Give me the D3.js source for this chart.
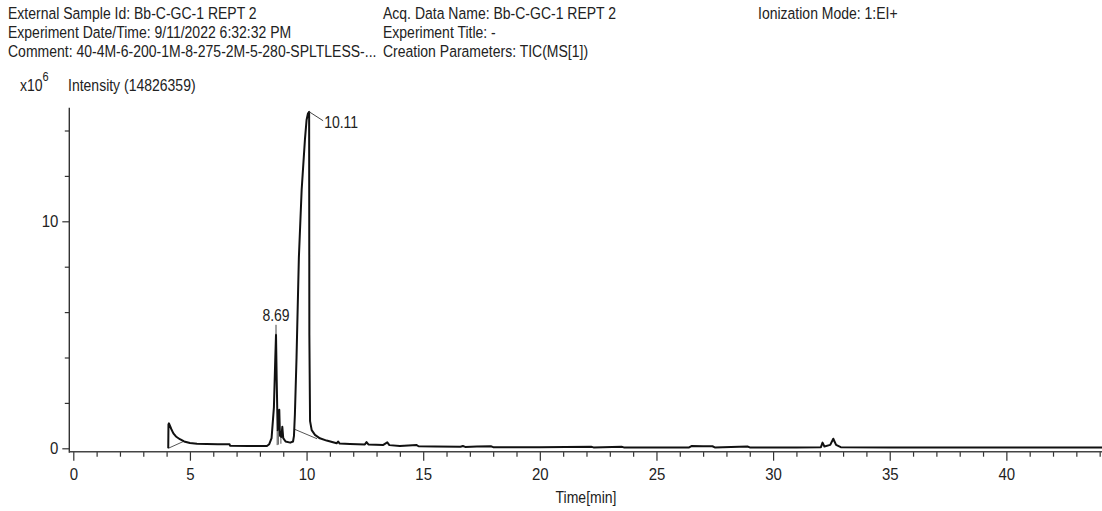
<!DOCTYPE html>
<html>
<head>
<meta charset="utf-8">
<script src="https://cdn.jsdelivr.net/npm/d3@7"></script>
<style>
  html, body { margin: 0; padding: 0; background: #fff; }
  svg { display: block; }
  text { font-family: "Liberation Sans", Arial, sans-serif; fill: #222; }
</style>
</head>
<body>
<svg id="chart" width="1102" height="511"></svg>
<script>
// Header information
const headerLeft = [
  "External Sample Id: Bb-C-GC-1 REPT 2",
  "Experiment Date/Time: 9/11/2022 6:32:32 PM",
  "Comment: 40-4M-6-200-1M-8-275-2M-5-280-SPLTLESS-..."
];
const headerMid = [
  "Acq. Data Name: Bb-C-GC-1 REPT 2",
  "Experiment Title: -",
  "Creation Parameters: TIC(MS[1])"
];
const headerRight = ["Ionization Mode: 1:EI+"];
const intensityLabel = "Intensity (14826359)";

// TIC trace: retention time (min) and intensity (x10^6 counts)
const timeMin = [
  4.07, 4.08, 4.10, 4.20, 4.29, 4.40, 4.57, 4.75, 5.00, 5.30, 5.72, 6.20, 6.70, 6.72,
  7.50, 8.30, 8.40, 8.50, 8.60, 8.66, 8.69, 8.72, 8.76, 8.80, 8.83, 8.86, 8.92, 8.96,
  9.00, 9.10, 9.30, 9.42, 9.46, 9.50, 9.57, 9.67, 9.79, 9.93, 10.00, 10.06, 10.11,
  10.12, 10.15, 10.22, 10.36, 10.57, 10.86, 11.29, 11.35, 11.42, 11.86, 12.50, 12.57,
  12.65, 13.29, 13.46, 13.55, 14.00, 14.72, 14.80, 15.50, 16.60, 16.70, 16.80, 17.30,
  17.90, 18.00, 20.00, 22.20, 22.30, 23.50, 23.60, 25.00, 26.40, 26.50, 27.00, 27.40,
  27.50, 28.90, 29.00, 31.00, 32.05, 32.12, 32.20, 32.45, 32.58, 32.70, 32.90, 35.00,
  40.00, 44.20
];
const intensityM = [
  0.00, 1.05, 1.10, 0.85, 0.66, 0.52, 0.40, 0.30, 0.23, 0.20, 0.19, 0.18, 0.18, 0.11,
  0.10, 0.10, 0.18, 0.45, 1.80, 4.00, 5.00, 3.00, 0.80, 1.00, 1.70, 0.55, 0.50, 0.95,
  0.45, 0.30, 0.25, 0.30, 0.55, 1.50, 4.00, 8.40, 11.40, 13.60, 14.46, 14.75, 14.826359,
  5.00, 1.20, 0.80, 0.59, 0.44, 0.34, 0.22, 0.30, 0.21, 0.19, 0.17, 0.27,
  0.17, 0.15, 0.26, 0.14, 0.10, 0.14, 0.09, 0.08, 0.07, 0.10, 0.06, 0.08,
  0.09, 0.05, 0.05, 0.07, 0.04, 0.07, 0.04, 0.04, 0.04, 0.10, 0.09, 0.09,
  0.04, 0.08, 0.04, 0.04, 0.05, 0.25, 0.08, 0.15, 0.42, 0.15, 0.05, 0.03,
  0.03, 0.03
];

// Integration baselines and drop lines: [t0, i0, t1, i1]
const baselineSegments = [
  [4.07, 0.00, 4.72, 0.30],
  [8.74, 0.14, 8.74, 0.80],
  [8.79, 0.16, 8.79, 0.95],
  [8.90, 0.20, 8.90, 0.50],
  [9.46, 0.85, 10.45, 0.42]
];

// Labelled peaks
const peakTimes = [8.69, 10.11];
const peakHeights = [5.00, 14.826359];
const peakLabels = ["8.69", "10.11"];

// Axis ticks
const xMajorTicks = [0, 5, 10, 15, 20, 25, 30, 35, 40];
const xMinorTicks = d3.range(0, 45, 1).filter(v => v % 5 !== 0);
const yMajorTicks = [0, 10];
const yMinorTicks = [2, 4, 6, 8, 12, 14];

const svg = d3.select("#chart");

const x = d3.scaleLinear().domain([0, 44.1]).range([73.3, 1102]);
const y = d3.scaleLinear().domain([0, 15]).range([448.3, 107.8]);
const axisY = 451.7;   // x-axis line position
const axisX = 69.3;    // y-axis line position
const TALL = 1.12;     // text is drawn slightly taller than wide

// Place a text element at (px, py) with the vertical stretch applied
function label(parent, px, py, str, size, anchor) {
  return parent.append("text")
    .attr("transform", `translate(${px},${py}) scale(1,${TALL})`)
    .attr("font-size", size)
    .attr("text-anchor", anchor || "start")
    .text(str);
}

// Header text
const hdr = svg.append("g");
headerLeft.forEach((t, i) => label(hdr, 8, 19 + i * 19, t, 14));
headerMid.forEach((t, i) => label(hdr, 383, 19 + i * 19, t, 14));
headerRight.forEach((t, i) => label(hdr, 758, 19 + i * 19, t, 14));

const unit = label(svg, 20, 91, "", 14);
unit.append("tspan").text("x10");
unit.append("tspan").attr("dy", -9).attr("font-size", 11).text("6");
label(svg, 68, 91, intensityLabel, 14);

// Y axis
const yAxisG = svg.append("g").attr("transform", `translate(${axisX},0)`);
yAxisG.call(d3.axisLeft(y).tickValues(yMajorTicks).tickSize(7).tickSizeOuter(0)
  .tickFormat(d3.format("d")));
yAxisG.append("g").call(d3.axisLeft(y).tickValues(yMinorTicks).tickSize(4.5).tickFormat(""));
yAxisG.selectAll(".domain").remove();
yAxisG.selectAll("line").attr("stroke", "#333").attr("stroke-width", 1.2);
yAxisG.selectAll("text")
  .attr("font-size", 15).attr("font-family", "Liberation Sans, Arial, sans-serif")
  .attr("fill", "#222").attr("x", null).attr("dy", null)
  .attr("transform", `translate(-11,5.5) scale(1,${TALL})`);
svg.append("line").attr("x1", axisX).attr("x2", axisX).attr("y1", y(15)).attr("y2", axisY + 1)
  .attr("stroke", "#333").attr("stroke-width", 1.4);

// X axis
const xAxisG = svg.append("g").attr("transform", `translate(0,${axisY})`);
xAxisG.call(d3.axisBottom(x).tickValues(xMajorTicks).tickSize(9).tickSizeOuter(0)
  .tickFormat(d3.format("d")));
xAxisG.append("g").call(d3.axisBottom(x).tickValues(xMinorTicks).tickSize(5).tickFormat(""));
xAxisG.selectAll(".domain").remove();
xAxisG.selectAll("line").attr("stroke", "#333").attr("stroke-width", 1.2);
xAxisG.selectAll("text")
  .attr("font-size", 15).attr("font-family", "Liberation Sans, Arial, sans-serif")
  .attr("fill", "#222").attr("y", null).attr("dy", null)
  .attr("transform", `translate(0,28.5) scale(1,${TALL})`);
svg.append("line").attr("x1", axisX).attr("x2", 1102).attr("y1", axisY).attr("y2", axisY)
  .attr("stroke", "#444").attr("stroke-width", 1.4);

label(svg, 586, 503, "Time[min]", 14, "middle");

// Integration baselines
svg.append("g").selectAll("line").data(baselineSegments).join("line")
  .attr("x1", d => x(d[0])).attr("y1", d => y(d[1]))
  .attr("x2", d => x(d[2])).attr("y2", d => y(d[3]))
  .attr("stroke", "#555").attr("stroke-width", 1);

// TIC trace
const points = timeMin.map((t, i) => [t, intensityM[i]]);
svg.append("path").datum(points)
  .attr("fill", "none").attr("stroke", "#111").attr("stroke-width", 2)
  .attr("stroke-linejoin", "round")
  .attr("d", d3.line().x(d => x(d[0])).y(d => y(d[1])));

// Peak annotations
const ann = svg.append("g");
// 8.69: label above the apex with a vertical leader
ann.append("line")
  .attr("x1", x(peakTimes[0])).attr("x2", x(peakTimes[0]))
  .attr("y1", y(peakHeights[0]) - 10).attr("y2", y(peakHeights[0]))
  .attr("stroke", "#444").attr("stroke-width", 1);
label(ann, x(peakTimes[0]), y(peakHeights[0]) - 14, peakLabels[0], 14, "middle");
// 10.11: label to the right with a slanted leader
ann.append("line")
  .attr("x1", x(peakTimes[1])).attr("y1", y(peakHeights[1]))
  .attr("x2", x(peakTimes[1]) + 14).attr("y2", y(peakHeights[1]) + 9)
  .attr("stroke", "#444").attr("stroke-width", 1);
label(ann, x(peakTimes[1]) + 15, y(peakHeights[1]) + 16, peakLabels[1], 14);
</script>
</body>
</html>
